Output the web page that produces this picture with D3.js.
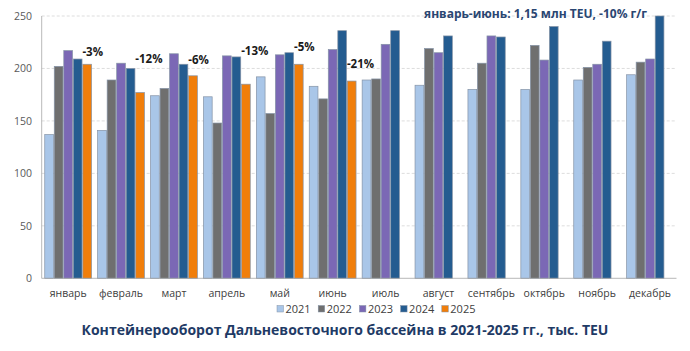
<!DOCTYPE html>
<html>
<head>
<meta charset="utf-8">
<script src="https://cdn.jsdelivr.net/npm/d3@7"></script>
<style>
  body { margin: 0; background: #fff; }
  svg { display: block; font-family: "Open Sans", sans-serif; }
</style>
</head>
<body>
<div id="chart"><svg></svg></div>
<script>
// data
var months = ["январь","февраль","март","апрель","май","июнь","июль","август","сентябрь","октябрь","ноябрь","декабрь"]
var years = ["2021","2022","2023","2024","2025"]
var v2021 = [137,141,174,173,192,183,189,184,180,180,189,194]
var v2022 = [202,189,181,148,157,171,190,219,205,222,201,206]
var v2023 = [217,205,214,212,213,218,223,215,231,208,204,209]
var v2024 = [209,200,204,211,215,236,236,231,230,240,226,250]
var v2025 = [204,177,193,185,204,188]
var yTicks = [0,50,100,150,200,250]
var pctLabels = ["-3%","-12%","-6%","-13%","-5%","-21%"]
var pctLevel = [212,205,204,213,217,200]

var series = [v2021,v2022,v2023,v2024,v2025]
var colors = ["#a9c6e8","#6f6f6f","#7b68b5","#245c90","#f07e0b"]

var W = 690, H = 351
var margin = {left:41.7, right:13.5, top:16, bottom:72.7}

var svg = d3.select("#chart svg").attr("width",W).attr("height",H)

var x = d3.scaleBand().domain(months)
  .range([margin.left, W-margin.right]).paddingInner(0.1).paddingOuter(0.05)
var xs = d3.scaleBand().domain(years).range([0, x.bandwidth()])
var y = d3.scaleLinear().domain([0,250]).range([H-margin.bottom, margin.top])

// grid
svg.append("g").selectAll("line")
  .data(yTicks.filter(d=>d>0))
  .join("line")
  .attr("x1",margin.left).attr("x2",W-margin.right)
  .attr("y1",d=>y(d)).attr("y2",d=>y(d))
  .attr("stroke","#d4d4d4").attr("stroke-dasharray","3,2").attr("stroke-width",0.8)

// bars
var rows = []
months.forEach((m,i)=>{
  years.forEach((yr,k)=>{
    var v = series[k][i]
    if(v!=null) rows.push({m:m, yr:yr, k:k, v:v})
  })
})

svg.append("g").selectAll("rect")
  .data(rows)
  .join("rect")
  .attr("x",d=>x(d.m)+xs(d.yr)+0.4)
  .attr("y",d=>y(d.v))
  .attr("width",xs.bandwidth()-0.8)
  .attr("height",d=>y(0)-y(d.v))
  .attr("fill",d=>colors[d.k])
  .attr("stroke","#8593a6")
  .attr("stroke-width",0.7)

// axes lines
svg.append("line").attr("x1",margin.left).attr("x2",margin.left)
  .attr("y1",y(250)).attr("y2",y(0)).attr("stroke","#a6a6a6").attr("stroke-width",0.8)
svg.append("line").attr("x1",margin.left).attr("x2",W-margin.right)
  .attr("y1",y(0)).attr("y2",y(0)).attr("stroke","#a6a6a6").attr("stroke-width",0.8)

// y tick labels
svg.append("g").selectAll("text")
  .data(yTicks)
  .join("text")
  .attr("x",32).attr("y",d=>y(d)+4)
  .attr("text-anchor","end")
  .attr("font-size",10.5)
  .attr("fill","#595959")
  .text(d=>d)

// x labels
svg.append("g").selectAll("text")
  .data(months)
  .join("text")
  .attr("x",d=>x(d)+x.bandwidth()/2)
  .attr("y",297)
  .attr("text-anchor","middle")
  .attr("font-size",10.5)
  .attr("fill","#404040")
  .text(d=>d)

// percent labels
svg.append("g").selectAll("text")
  .data(pctLabels)
  .join("text")
  .attr("x",(d,i)=>x(months[i])+xs("2025"))
  .attr("y",(d,i)=>y(pctLevel[i]))
  .attr("font-size",11.5)
  .attr("font-weight","bold")
  .attr("fill","#1a1a1a")
  .text(d=>d)

// top note
svg.append("text")
  .attr("x",647).attr("y",17.5)
  .attr("text-anchor","end")
  .attr("font-size",12)
  .attr("font-weight","bold")
  .attr("fill","#2a4672")
  .text("январь-июнь: 1,15 млн TEU, -10% г/г")

// legend
var legend = svg.append("g").attr("transform","translate(277,309)")
var item = legend.selectAll("g")
  .data(years)
  .join("g")
  .attr("transform",(d,i)=>`translate(${i*41.2},0)`)
item.append("rect")
  .attr("x",0).attr("y",-3.5).attr("width",6.5).attr("height",6.5)
  .attr("fill",(d,i)=>colors[i])
  .attr("stroke","#8593a6").attr("stroke-width",0.5)
item.append("text")
  .attr("x",8.5).attr("y",4)
  .attr("font-size",11)
  .attr("fill","#404040")
  .text(d=>d)

// title
svg.append("text")
  .attr("x",345).attr("y",335)
  .attr("text-anchor","middle")
  .attr("font-size",14)
  .attr("font-weight","bold")
  .attr("fill","#1f3b66")
  .text("Контейнерооборот Дальневосточного бассейна в 2021-2025 гг., тыс. TEU")
</script>
</body>
</html>
